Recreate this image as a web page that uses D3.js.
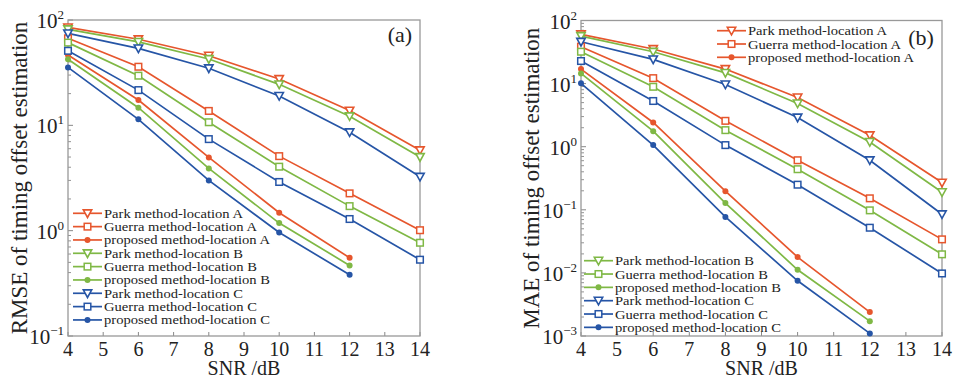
<!DOCTYPE html>
<html>
<head>
<meta charset="utf-8">
<script src="https://cdn.jsdelivr.net/npm/d3@7"></script>
<style>
  body { margin: 0; background: #fff; }
  svg text { font-family: "Liberation Serif", "DejaVu Serif", serif; fill: #222; }
</style>
</head>
<body>
<svg id="chart" width="955" height="380"></svg>
<script>
const snr = [4, 6, 8, 10, 12, 14]
const xTicks = [4, 5, 6, 7, 8, 9, 10, 11, 12, 13, 14]

// RMSE panel (a)
const rmseParkA = [85, 65.6, 45.8, 27.5, 13.8, 5.8]
const rmseGuerraA = [67, 36, 13.7, 5.1, 2.26, 1.01]
const rmseProposedA = [46.5, 17.4, 4.96, 1.48, 0.553]
const rmseParkB = [81.6, 62, 42.6, 24.5, 12.2, 5.0]
const rmseGuerraB = [61, 29.6, 10.7, 4.05, 1.71, 0.768]
const rmseProposedB = [42.4, 14.7, 3.9, 1.18, 0.468]
const rmseParkC = [74.6, 53.8, 34.8, 19, 8.6, 3.25]
const rmseGuerraC = [51, 21.6, 7.4, 2.9, 1.29, 0.53]
const rmseProposedC = [35.5, 11.4, 3.0, 0.96, 0.381]

// MAE panel (b)
const maeParkA = [60.4, 35.3, 17, 6.04, 1.52, 0.27]
const maeGuerraA = [38.5, 12.2, 2.57, 0.61, 0.152, 0.034]
const maeProposedA = [17, 2.42, 0.197, 0.0178, 0.00239]
const maeParkB = [56.7, 32, 14.8, 4.85, 1.19, 0.19]
const maeGuerraB = [32, 8.9, 1.83, 0.44, 0.098, 0.0197]
const maeProposedB = [14.5, 1.76, 0.128, 0.0112, 0.00172]
const maeParkC = [46, 24.2, 9.7, 2.9, 0.61, 0.085]
const maeGuerraC = [22.8, 5.3, 1.06, 0.25, 0.052, 0.0098]
const maeProposedC = [10.1, 1.06, 0.077, 0.0075, 0.0011]

const seriesNames = [
	"Park method-location A", "Guerra method-location A", "proposed method-location A",
	"Park method-location B", "Guerra method-location B", "proposed method-location B",
	"Park method-location C", "Guerra method-location C", "proposed method-location C"
]
const seriesColors = ["#e6562d", "#e6562d", "#e6562d", "#7fb845", "#7fb845", "#7fb845", "#2655a6", "#2655a6", "#2655a6"]
const seriesMarkers = ["tri", "sq", "dot", "tri", "sq", "dot", "tri", "sq", "dot"]

const svg = d3.select("#chart")

const drawMarker = (g, type, color, x, y) => {
	if (type === "tri") {
		g.append("path")
			.attr("d", `M${x - 4.2},${y - 3.4}L${x + 4.2},${y - 3.4}L${x},${y + 4.2}Z`)
			.attr("fill", "#fff").attr("stroke", color).attr("stroke-width", 1.6)
	} else if (type === "sq") {
		g.append("rect")
			.attr("x", x - 3.3).attr("y", y - 3.3).attr("width", 6.6).attr("height", 6.6)
			.attr("fill", "#fff").attr("stroke", color).attr("stroke-width", 1.5)
	} else {
		g.append("circle").attr("cx", x).attr("cy", y).attr("r", 3).attr("fill", color)
	}
}

function drawPanel(opts) {
	const { left, right, top, bottom, yMin, yMax, series, yLabel, yLabelX, tag, tagX, tagY, legends } = opts
	const g = svg.append("g")
	const x = d3.scaleLinear().domain([4, 14]).range([left, right])
	const y = d3.scaleLog().domain([yMin, yMax]).range([bottom, top])

	// minor + major ticks on the left, inward
	const decades = d3.range(Math.log10(yMin), Math.log10(yMax) + 1)
	decades.forEach(d => {
		const base = Math.pow(10, d)
		g.append("line").attr("x1", left).attr("x2", left + 5)
			.attr("y1", y(base)).attr("y2", y(base)).attr("stroke", "#888").attr("stroke-width", 1)
		if (base < yMax) {
			d3.range(2, 10).forEach(k => {
				g.append("line").attr("x1", left).attr("x2", left + 3)
					.attr("y1", y(base * k)).attr("y2", y(base * k)).attr("stroke", "#888").attr("stroke-width", 0.9)
			})
		}
		const t = g.append("text").attr("x", left - 4).attr("y", y(base) + 8)
			.attr("text-anchor", "end").attr("font-size", 21)
		t.append("tspan").text("10")
		t.append("tspan").attr("dy", -9).attr("font-size", 13).text(d < 0 ? "\u2212" + (-d) : d)
	})

	xTicks.forEach(v => {
		g.append("line").attr("x1", x(v)).attr("x2", x(v)).attr("y1", bottom).attr("y2", bottom - 4)
			.attr("stroke", "#888").attr("stroke-width", 1)
		g.append("text").attr("x", x(v)).attr("y", bottom + 20).attr("text-anchor", "middle")
			.attr("font-size", 20).text(v)
	})

	g.append("rect").attr("x", left).attr("y", top).attr("width", right - left).attr("height", bottom - top)
		.attr("fill", "none").attr("stroke", "#999").attr("stroke-width", 1.3)

	const line = d3.line().x((d, i) => x(snr[i])).y(d => y(d))
	series.forEach((vals, i) => {
		g.append("path").attr("d", line(vals)).attr("fill", "none")
			.attr("stroke", seriesColors[i]).attr("stroke-width", 1.7)
	})
	series.forEach((vals, i) => {
		vals.forEach((v, j) => drawMarker(g, seriesMarkers[i], seriesColors[i], x(snr[j]), y(v)))
	})

	legends.forEach(lg => {
		lg.items.forEach((idx, k) => {
			const ly = lg.y + k * lg.step
			g.append("line").attr("x1", lg.x).attr("x2", lg.x + 29).attr("y1", ly).attr("y2", ly)
				.attr("stroke", seriesColors[idx]).attr("stroke-width", 1.7)
			drawMarker(g, seriesMarkers[idx], seriesColors[idx], lg.x + 14.5, ly)
			g.append("text").attr("x", lg.x + 31).attr("y", ly + 4.5).attr("font-size", 13.3)
				.attr("textLength", lg.widths[k]).attr("lengthAdjust", "spacingAndGlyphs")
				.text(seriesNames[idx])
		})
	})

	g.append("text").attr("x", tagX).attr("y", tagY).attr("font-size", 22).attr("text-anchor", "middle").text(tag)

	g.append("text").attr("transform", `translate(${yLabelX},${(top + bottom) / 2}) rotate(-90)`)
		.attr("text-anchor", "middle").attr("font-size", 23).text(yLabel)
	g.append("text").attr("x", (left + right) / 2).attr("y", 375).attr("text-anchor", "middle")
		.attr("font-size", 20).text("SNR /dB")
}

// widths of legend labels as seen in the picture
const legendWidthsA = [139, 153, 166, 139, 153, 166, 139, 153, 166]
const legendWidthsB = [139, 153, 166]
const legendWidthsC = [139, 153, 166, 139, 153, 166]

drawPanel({
	left: 68, right: 420, top: 20, bottom: 336, yMin: 0.1, yMax: 100,
	series: [rmseParkA, rmseGuerraA, rmseProposedA, rmseParkB, rmseGuerraB, rmseProposedB, rmseParkC, rmseGuerraC, rmseProposedC],
	yLabel: "RMSE of timing offset estimation", yLabelX: 27,
	tag: "(a)", tagX: 400, tagY: 42,
	legends: [{ x: 73, y: 213.3, step: 13.33, items: [0, 1, 2, 3, 4, 5, 6, 7, 8], widths: legendWidthsA }]
})

drawPanel({
	left: 581, right: 942, top: 20.5, bottom: 336, yMin: 0.001, yMax: 100,
	series: [maeParkA, maeGuerraA, maeProposedA, maeParkB, maeGuerraB, maeProposedB, maeParkC, maeGuerraC, maeProposedC],
	yLabel: "MAE of timing offset estimation", yLabelX: 539,
	tag: "(b)", tagX: 921, tagY: 45,
	legends: [
		{ x: 717, y: 30.7, step: 13.3, items: [0, 1, 2], widths: legendWidthsB },
		{ x: 584, y: 260.7, step: 13.33, items: [3, 4, 5, 6, 7, 8], widths: legendWidthsC }
	]
})
</script>
</body>
</html>
